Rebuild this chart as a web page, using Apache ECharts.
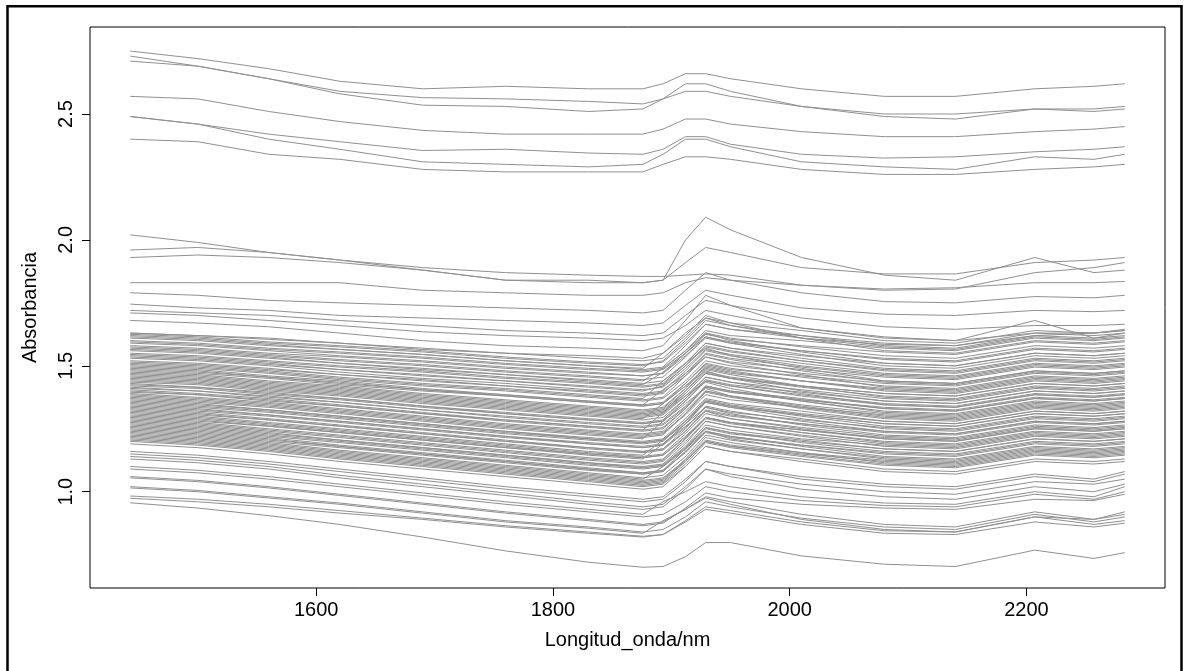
<!DOCTYPE html>
<html>
<head>
<meta charset="utf-8">
<script src="https://cdn.jsdelivr.net/npm/echarts@6/dist/echarts.min.js"></script>
<style>
html, body { margin: 0; padding: 0; background: #fff; }
#chart { width: 1188px; height: 671px; }
</style>
</head>
<body>
<div id="chart"></div>
<script>
// wavelengths (nm) shared by every spectrum
var wavelengths = [1443, 1500, 1560, 1620, 1690, 1760, 1830, 1876, 1893, 1912, 1929, 1950, 2010, 2080, 2140, 2207, 2257, 2283];

var xTicks = [1600, 1800, 2000, 2200];
var yTicks = [1.0, 1.5, 2.0, 2.5];

// the separate group at the top
var topSpectra = [
  [2.75, 2.72, 2.68, 2.63, 2.60, 2.61, 2.60, 2.60, 2.62, 2.66, 2.66, 2.64, 2.60, 2.57, 2.57, 2.60, 2.61, 2.62],
  [2.73, 2.69, 2.64, 2.59, 2.565, 2.56, 2.55, 2.54, 2.56, 2.62, 2.62, 2.59, 2.53, 2.50, 2.50, 2.52, 2.52, 2.53],
  [2.71, 2.69, 2.64, 2.58, 2.535, 2.53, 2.51, 2.52, 2.56, 2.59, 2.59, 2.57, 2.53, 2.49, 2.48, 2.52, 2.51, 2.52],
  [2.57, 2.56, 2.51, 2.47, 2.435, 2.42, 2.42, 2.42, 2.44, 2.48, 2.48, 2.46, 2.43, 2.41, 2.41, 2.43, 2.44, 2.45],
  [2.49, 2.46, 2.42, 2.39, 2.355, 2.36, 2.345, 2.34, 2.36, 2.41, 2.41, 2.38, 2.34, 2.325, 2.33, 2.35, 2.36, 2.37],
  [2.49, 2.46, 2.40, 2.36, 2.31, 2.30, 2.29, 2.30, 2.34, 2.40, 2.40, 2.37, 2.31, 2.29, 2.28, 2.33, 2.32, 2.34],
  [2.40, 2.39, 2.34, 2.32, 2.28, 2.27, 2.27, 2.27, 2.30, 2.33, 2.33, 2.32, 2.28, 2.26, 2.26, 2.28, 2.29, 2.30]
];

// lines between 1.6 and 2.1
var upperSpectra = [
  [2.02, 1.99, 1.95, 1.92, 1.89, 1.87, 1.86, 1.855, 1.855, 1.86, 1.865, 1.86, 1.82, 1.80, 1.805, 1.87, 1.89, 1.91],
  [1.96, 1.97, 1.95, 1.92, 1.88, 1.84, 1.84, 1.83, 1.84, 1.91, 1.97, 1.95, 1.89, 1.865, 1.865, 1.91, 1.92, 1.93],
  [1.93, 1.94, 1.93, 1.91, 1.88, 1.84, 1.83, 1.83, 1.84, 2.00, 2.09, 2.04, 1.93, 1.86, 1.84, 1.93, 1.87, 1.88],
  [1.83, 1.83, 1.83, 1.83, 1.80, 1.79, 1.78, 1.78, 1.79, 1.83, 1.85, 1.84, 1.82, 1.805, 1.81, 1.83, 1.83, 1.835],
  [1.79, 1.78, 1.76, 1.75, 1.74, 1.73, 1.72, 1.71, 1.72, 1.80, 1.87, 1.84, 1.79, 1.755, 1.75, 1.775, 1.77, 1.78],
  [1.745, 1.73, 1.72, 1.70, 1.69, 1.68, 1.67, 1.66, 1.67, 1.74, 1.80, 1.78, 1.73, 1.705, 1.70, 1.72, 1.715, 1.72],
  [1.72, 1.71, 1.70, 1.68, 1.66, 1.64, 1.63, 1.62, 1.63, 1.70, 1.76, 1.74, 1.69, 1.655, 1.645, 1.66, 1.66, 1.665],
  [1.71, 1.70, 1.68, 1.66, 1.635, 1.62, 1.61, 1.60, 1.61, 1.66, 1.72, 1.70, 1.65, 1.615, 1.60, 1.63, 1.63, 1.64],
  [1.68, 1.67, 1.655, 1.63, 1.60, 1.58, 1.57, 1.56, 1.58, 1.68, 1.78, 1.74, 1.65, 1.61, 1.60, 1.68, 1.61, 1.63],
  [1.63, 1.62, 1.61, 1.59, 1.565, 1.55, 1.54, 1.53, 1.55, 1.62, 1.70, 1.67, 1.61, 1.585, 1.58, 1.62, 1.63, 1.645]
];

// the dense band
var denseSpectra = [
  [1.63, 1.62, 1.605, 1.59, 1.57, 1.55, 1.53, 1.52, 1.53, 1.61, 1.69, 1.67, 1.64, 1.60, 1.59, 1.64, 1.63, 1.64],
  [1.62, 1.61, 1.59, 1.575, 1.555, 1.53, 1.51, 1.50, 1.52, 1.60, 1.68, 1.66, 1.62, 1.58, 1.57, 1.62, 1.61, 1.62],
  [1.61, 1.60, 1.58, 1.565, 1.545, 1.52, 1.50, 1.49, 1.55, 1.63, 1.69, 1.66, 1.61, 1.56, 1.55, 1.60, 1.59, 1.60],
  [1.60, 1.59, 1.57, 1.555, 1.535, 1.51, 1.49, 1.48, 1.49, 1.56, 1.64, 1.62, 1.60, 1.57, 1.56, 1.61, 1.60, 1.61],
  [1.59, 1.58, 1.56, 1.54, 1.52, 1.495, 1.475, 1.46, 1.47, 1.55, 1.63, 1.61, 1.575, 1.54, 1.53, 1.58, 1.57, 1.58],
  [1.58, 1.57, 1.55, 1.535, 1.515, 1.49, 1.47, 1.46, 1.47, 1.54, 1.61, 1.59, 1.56, 1.53, 1.52, 1.57, 1.56, 1.57],
  [1.57, 1.56, 1.54, 1.52, 1.50, 1.475, 1.455, 1.44, 1.49, 1.56, 1.63, 1.60, 1.555, 1.51, 1.50, 1.55, 1.54, 1.55],
  [1.56, 1.55, 1.53, 1.51, 1.49, 1.465, 1.445, 1.43, 1.44, 1.51, 1.59, 1.57, 1.54, 1.51, 1.50, 1.55, 1.54, 1.55],
  [1.55, 1.54, 1.52, 1.50, 1.48, 1.455, 1.435, 1.42, 1.43, 1.51, 1.59, 1.57, 1.53, 1.49, 1.48, 1.53, 1.52, 1.53],
  [1.54, 1.53, 1.51, 1.485, 1.46, 1.44, 1.415, 1.40, 1.42, 1.50, 1.58, 1.56, 1.52, 1.48, 1.47, 1.52, 1.51, 1.52],
  [1.535, 1.525, 1.505, 1.485, 1.465, 1.44, 1.42, 1.405, 1.415, 1.49, 1.565, 1.545, 1.51, 1.47, 1.46, 1.51, 1.50, 1.51],
  [1.52, 1.51, 1.49, 1.465, 1.44, 1.42, 1.395, 1.38, 1.39, 1.47, 1.55, 1.53, 1.495, 1.46, 1.45, 1.50, 1.49, 1.50],
  [1.51, 1.50, 1.48, 1.455, 1.43, 1.41, 1.385, 1.37, 1.44, 1.51, 1.57, 1.54, 1.49, 1.44, 1.43, 1.48, 1.47, 1.48],
  [1.50, 1.49, 1.47, 1.445, 1.42, 1.40, 1.375, 1.36, 1.37, 1.44, 1.52, 1.50, 1.47, 1.44, 1.43, 1.48, 1.47, 1.48],
  [1.49, 1.48, 1.455, 1.435, 1.405, 1.38, 1.355, 1.34, 1.35, 1.43, 1.51, 1.49, 1.455, 1.42, 1.41, 1.46, 1.45, 1.46],
  [1.48, 1.47, 1.45, 1.425, 1.40, 1.38, 1.355, 1.34, 1.35, 1.42, 1.49, 1.47, 1.44, 1.41, 1.40, 1.45, 1.44, 1.45],
  [1.47, 1.46, 1.435, 1.415, 1.385, 1.36, 1.335, 1.32, 1.33, 1.41, 1.50, 1.48, 1.44, 1.40, 1.39, 1.44, 1.43, 1.44],
  [1.465, 1.455, 1.43, 1.41, 1.38, 1.355, 1.33, 1.315, 1.325, 1.40, 1.475, 1.455, 1.42, 1.39, 1.38, 1.43, 1.42, 1.43],
  [1.45, 1.44, 1.415, 1.395, 1.365, 1.34, 1.315, 1.30, 1.31, 1.39, 1.47, 1.45, 1.415, 1.38, 1.37, 1.42, 1.41, 1.42],
  [1.44, 1.43, 1.405, 1.385, 1.355, 1.33, 1.305, 1.29, 1.35, 1.42, 1.48, 1.45, 1.40, 1.36, 1.35, 1.40, 1.39, 1.40],
  [1.435, 1.425, 1.40, 1.38, 1.35, 1.325, 1.30, 1.285, 1.295, 1.37, 1.445, 1.425, 1.395, 1.36, 1.35, 1.40, 1.39, 1.40],
  [1.42, 1.41, 1.385, 1.365, 1.335, 1.31, 1.285, 1.27, 1.28, 1.36, 1.44, 1.42, 1.385, 1.35, 1.34, 1.39, 1.38, 1.39],
  [1.41, 1.40, 1.375, 1.355, 1.325, 1.30, 1.275, 1.26, 1.27, 1.34, 1.42, 1.40, 1.37, 1.33, 1.32, 1.37, 1.36, 1.37],
  [1.40, 1.385, 1.365, 1.34, 1.31, 1.28, 1.255, 1.24, 1.25, 1.33, 1.42, 1.40, 1.36, 1.32, 1.31, 1.36, 1.35, 1.36],
  [1.395, 1.385, 1.36, 1.34, 1.31, 1.285, 1.26, 1.245, 1.255, 1.33, 1.415, 1.395, 1.365, 1.33, 1.32, 1.37, 1.36, 1.37],
  [1.38, 1.365, 1.345, 1.32, 1.29, 1.26, 1.235, 1.22, 1.23, 1.31, 1.40, 1.38, 1.34, 1.30, 1.29, 1.34, 1.33, 1.34],
  [1.37, 1.355, 1.335, 1.31, 1.28, 1.25, 1.225, 1.21, 1.28, 1.35, 1.41, 1.38, 1.33, 1.29, 1.28, 1.33, 1.32, 1.33],
  [1.36, 1.345, 1.325, 1.30, 1.27, 1.24, 1.215, 1.20, 1.21, 1.29, 1.37, 1.35, 1.32, 1.28, 1.27, 1.32, 1.31, 1.32],
  [1.355, 1.34, 1.32, 1.295, 1.265, 1.235, 1.21, 1.195, 1.205, 1.28, 1.355, 1.335, 1.305, 1.27, 1.26, 1.31, 1.30, 1.31],
  [1.34, 1.325, 1.305, 1.28, 1.25, 1.22, 1.195, 1.18, 1.19, 1.27, 1.36, 1.34, 1.30, 1.26, 1.25, 1.30, 1.29, 1.30],
  [1.33, 1.315, 1.29, 1.265, 1.235, 1.205, 1.175, 1.16, 1.17, 1.25, 1.34, 1.32, 1.28, 1.24, 1.23, 1.28, 1.27, 1.28],
  [1.32, 1.305, 1.285, 1.26, 1.23, 1.20, 1.175, 1.16, 1.17, 1.24, 1.32, 1.30, 1.27, 1.24, 1.23, 1.28, 1.27, 1.28],
  [1.31, 1.295, 1.27, 1.245, 1.215, 1.185, 1.155, 1.14, 1.15, 1.23, 1.31, 1.29, 1.255, 1.22, 1.21, 1.26, 1.25, 1.26],
  [1.30, 1.285, 1.26, 1.235, 1.205, 1.175, 1.145, 1.13, 1.19, 1.26, 1.32, 1.29, 1.25, 1.21, 1.20, 1.25, 1.24, 1.25],
  [1.295, 1.28, 1.26, 1.235, 1.205, 1.175, 1.15, 1.135, 1.145, 1.22, 1.295, 1.275, 1.245, 1.21, 1.20, 1.25, 1.24, 1.25],
  [1.28, 1.265, 1.24, 1.215, 1.185, 1.155, 1.125, 1.11, 1.12, 1.20, 1.28, 1.26, 1.225, 1.19, 1.18, 1.23, 1.22, 1.23],
  [1.27, 1.255, 1.23, 1.205, 1.175, 1.145, 1.115, 1.10, 1.11, 1.19, 1.28, 1.26, 1.22, 1.18, 1.17, 1.22, 1.21, 1.22],
  [1.26, 1.245, 1.22, 1.195, 1.165, 1.135, 1.105, 1.09, 1.10, 1.17, 1.25, 1.23, 1.20, 1.17, 1.16, 1.21, 1.20, 1.21],
  [1.25, 1.235, 1.21, 1.18, 1.15, 1.12, 1.09, 1.07, 1.08, 1.16, 1.24, 1.22, 1.185, 1.15, 1.14, 1.19, 1.18, 1.19],
  [1.24, 1.225, 1.20, 1.175, 1.145, 1.115, 1.085, 1.07, 1.08, 1.16, 1.24, 1.22, 1.18, 1.14, 1.13, 1.18, 1.17, 1.18],
  [1.23, 1.215, 1.19, 1.16, 1.13, 1.10, 1.07, 1.05, 1.10, 1.17, 1.24, 1.21, 1.17, 1.13, 1.12, 1.17, 1.16, 1.17],
  [1.22, 1.205, 1.18, 1.15, 1.12, 1.09, 1.06, 1.04, 1.05, 1.12, 1.20, 1.18, 1.15, 1.12, 1.11, 1.16, 1.15, 1.16],
  [1.21, 1.195, 1.17, 1.14, 1.11, 1.08, 1.05, 1.03, 1.04, 1.12, 1.20, 1.18, 1.145, 1.11, 1.10, 1.15, 1.14, 1.15],
  [1.20, 1.185, 1.16, 1.13, 1.10, 1.07, 1.04, 1.02, 1.03, 1.10, 1.18, 1.16, 1.13, 1.09, 1.08, 1.13, 1.12, 1.13],
  [1.19, 1.175, 1.15, 1.12, 1.09, 1.06, 1.03, 1.01, 1.02, 1.10, 1.18, 1.16, 1.12, 1.08, 1.07, 1.12, 1.11, 1.12]
];

// more spectra filling the dense band
var denseSpectraB = [
  [1.625, 1.615, 1.595, 1.58, 1.56, 1.535, 1.515, 1.505, 1.515, 1.59, 1.665, 1.645, 1.62, 1.59, 1.58, 1.63, 1.62, 1.63],
  [1.615, 1.605, 1.585, 1.565, 1.545, 1.52, 1.50, 1.485, 1.495, 1.58, 1.665, 1.645, 1.61, 1.575, 1.565, 1.615, 1.605, 1.615],
  [1.595, 1.585, 1.565, 1.55, 1.53, 1.505, 1.485, 1.475, 1.485, 1.55, 1.625, 1.605, 1.58, 1.555, 1.545, 1.595, 1.585, 1.595],
  [1.575, 1.565, 1.545, 1.525, 1.505, 1.48, 1.46, 1.445, 1.455, 1.535, 1.615, 1.595, 1.56, 1.525, 1.515, 1.565, 1.555, 1.565],
  [1.565, 1.555, 1.535, 1.51, 1.485, 1.465, 1.44, 1.425, 1.475, 1.55, 1.615, 1.59, 1.545, 1.50, 1.49, 1.54, 1.53, 1.54],
  [1.545, 1.535, 1.515, 1.495, 1.475, 1.45, 1.43, 1.415, 1.425, 1.50, 1.575, 1.555, 1.52, 1.485, 1.475, 1.525, 1.515, 1.525],
  [1.53, 1.52, 1.50, 1.475, 1.45, 1.43, 1.405, 1.39, 1.40, 1.48, 1.56, 1.54, 1.50, 1.465, 1.455, 1.505, 1.495, 1.505],
  [1.515, 1.505, 1.485, 1.465, 1.445, 1.42, 1.40, 1.385, 1.395, 1.46, 1.535, 1.515, 1.485, 1.455, 1.445, 1.495, 1.485, 1.495],
  [1.505, 1.495, 1.475, 1.45, 1.425, 1.405, 1.38, 1.365, 1.375, 1.46, 1.545, 1.525, 1.48, 1.435, 1.425, 1.475, 1.465, 1.475],
  [1.495, 1.485, 1.46, 1.44, 1.41, 1.385, 1.36, 1.345, 1.355, 1.43, 1.505, 1.485, 1.46, 1.43, 1.42, 1.47, 1.46, 1.47],
  [1.485, 1.475, 1.455, 1.43, 1.405, 1.385, 1.36, 1.345, 1.405, 1.47, 1.535, 1.51, 1.465, 1.415, 1.405, 1.455, 1.445, 1.455],
  [1.475, 1.465, 1.44, 1.42, 1.39, 1.365, 1.34, 1.325, 1.335, 1.41, 1.495, 1.475, 1.44, 1.405, 1.395, 1.445, 1.435, 1.445],
  [1.46, 1.45, 1.425, 1.405, 1.375, 1.35, 1.325, 1.31, 1.32, 1.39, 1.47, 1.45, 1.42, 1.39, 1.38, 1.43, 1.42, 1.43],
  [1.455, 1.445, 1.42, 1.40, 1.37, 1.345, 1.32, 1.305, 1.315, 1.40, 1.485, 1.465, 1.42, 1.375, 1.365, 1.415, 1.405, 1.415],
  [1.445, 1.435, 1.41, 1.39, 1.36, 1.335, 1.31, 1.295, 1.305, 1.38, 1.455, 1.435, 1.405, 1.37, 1.36, 1.41, 1.40, 1.41],
  [1.43, 1.415, 1.395, 1.37, 1.34, 1.31, 1.285, 1.27, 1.28, 1.36, 1.44, 1.42, 1.38, 1.345, 1.335, 1.385, 1.375, 1.385],
  [1.425, 1.415, 1.39, 1.37, 1.34, 1.315, 1.29, 1.275, 1.285, 1.37, 1.455, 1.435, 1.39, 1.345, 1.335, 1.385, 1.375, 1.385],
  [1.415, 1.40, 1.38, 1.355, 1.325, 1.295, 1.27, 1.255, 1.265, 1.335, 1.415, 1.395, 1.365, 1.335, 1.325, 1.375, 1.365, 1.375],
  [1.405, 1.39, 1.37, 1.345, 1.315, 1.285, 1.26, 1.245, 1.315, 1.38, 1.435, 1.41, 1.36, 1.315, 1.305, 1.355, 1.345, 1.355],
  [1.39, 1.375, 1.355, 1.33, 1.30, 1.27, 1.245, 1.23, 1.24, 1.32, 1.40, 1.38, 1.345, 1.31, 1.30, 1.35, 1.34, 1.35],
  [1.385, 1.37, 1.35, 1.325, 1.295, 1.265, 1.24, 1.225, 1.235, 1.305, 1.385, 1.365, 1.335, 1.305, 1.295, 1.345, 1.335, 1.345],
  [1.375, 1.36, 1.34, 1.315, 1.285, 1.255, 1.23, 1.215, 1.225, 1.31, 1.395, 1.375, 1.335, 1.295, 1.285, 1.335, 1.325, 1.335],
  [1.365, 1.35, 1.325, 1.30, 1.27, 1.24, 1.21, 1.195, 1.205, 1.28, 1.365, 1.345, 1.31, 1.28, 1.27, 1.32, 1.31, 1.32],
  [1.35, 1.335, 1.315, 1.29, 1.26, 1.23, 1.205, 1.19, 1.20, 1.28, 1.36, 1.34, 1.305, 1.27, 1.26, 1.31, 1.30, 1.31],
  [1.345, 1.33, 1.305, 1.28, 1.25, 1.22, 1.19, 1.175, 1.185, 1.255, 1.335, 1.315, 1.285, 1.255, 1.245, 1.295, 1.285, 1.295],
  [1.335, 1.32, 1.30, 1.275, 1.245, 1.215, 1.19, 1.175, 1.185, 1.27, 1.355, 1.335, 1.29, 1.25, 1.24, 1.29, 1.28, 1.29],
  [1.325, 1.31, 1.285, 1.26, 1.23, 1.20, 1.17, 1.155, 1.165, 1.24, 1.325, 1.305, 1.27, 1.235, 1.225, 1.275, 1.265, 1.275],
  [1.315, 1.30, 1.275, 1.25, 1.22, 1.19, 1.16, 1.145, 1.205, 1.27, 1.335, 1.31, 1.265, 1.225, 1.215, 1.265, 1.255, 1.265],
  [1.305, 1.29, 1.265, 1.24, 1.21, 1.18, 1.15, 1.135, 1.145, 1.215, 1.295, 1.275, 1.245, 1.215, 1.205, 1.255, 1.245, 1.255],
  [1.29, 1.275, 1.25, 1.225, 1.195, 1.165, 1.135, 1.12, 1.13, 1.21, 1.29, 1.27, 1.235, 1.20, 1.19, 1.24, 1.23, 1.24],
  [1.285, 1.27, 1.245, 1.22, 1.19, 1.16, 1.13, 1.115, 1.125, 1.21, 1.295, 1.275, 1.235, 1.195, 1.185, 1.235, 1.225, 1.235],
  [1.275, 1.26, 1.235, 1.205, 1.175, 1.145, 1.115, 1.095, 1.105, 1.18, 1.265, 1.245, 1.21, 1.185, 1.175, 1.225, 1.215, 1.225],
  [1.265, 1.25, 1.225, 1.20, 1.17, 1.14, 1.11, 1.095, 1.105, 1.175, 1.255, 1.235, 1.205, 1.17, 1.16, 1.21, 1.20, 1.21],
  [1.255, 1.24, 1.215, 1.185, 1.155, 1.125, 1.095, 1.075, 1.085, 1.17, 1.255, 1.235, 1.195, 1.16, 1.15, 1.20, 1.19, 1.20],
  [1.245, 1.23, 1.205, 1.18, 1.15, 1.12, 1.09, 1.075, 1.085, 1.155, 1.235, 1.215, 1.185, 1.155, 1.145, 1.195, 1.185, 1.195],
  [1.235, 1.22, 1.195, 1.165, 1.135, 1.105, 1.075, 1.055, 1.065, 1.14, 1.225, 1.205, 1.17, 1.135, 1.125, 1.175, 1.165, 1.175],
  [1.225, 1.21, 1.185, 1.155, 1.125, 1.095, 1.065, 1.045, 1.055, 1.125, 1.205, 1.185, 1.155, 1.125, 1.115, 1.165, 1.155, 1.165],
  [1.215, 1.20, 1.175, 1.145, 1.115, 1.085, 1.055, 1.035, 1.045, 1.13, 1.215, 1.195, 1.155, 1.115, 1.105, 1.155, 1.145, 1.155],
  [1.205, 1.19, 1.165, 1.135, 1.105, 1.075, 1.045, 1.025, 1.035, 1.11, 1.195, 1.175, 1.14, 1.105, 1.095, 1.145, 1.135, 1.145]
];

// sparser lines under the band
var lowSpectra = [
  [1.16, 1.145, 1.12, 1.09, 1.055, 1.02, 0.99, 0.97, 0.98, 1.05, 1.12, 1.10, 1.06, 1.03, 1.02, 1.07, 1.05, 1.08],
  [1.15, 1.135, 1.11, 1.08, 1.045, 1.01, 0.98, 0.96, 0.97, 1.04, 1.12, 1.10, 1.05, 1.02, 1.01, 1.06, 1.04, 1.07],
  [1.14, 1.125, 1.10, 1.065, 1.03, 0.995, 0.96, 0.94, 0.95, 1.02, 1.09, 1.07, 1.03, 1.00, 0.99, 1.04, 1.03, 1.05],
  [1.13, 1.115, 1.09, 1.055, 1.02, 0.985, 0.95, 0.93, 0.94, 1.01, 1.09, 1.06, 1.01, 0.98, 0.97, 1.02, 1.00, 1.03],
  [1.10, 1.085, 1.06, 1.03, 0.995, 0.96, 0.93, 0.91, 0.96, 1.00, 1.04, 1.02, 0.98, 0.955, 0.95, 1.00, 0.98, 1.02],
  [1.09, 1.075, 1.05, 1.02, 0.985, 0.95, 0.92, 0.90, 0.91, 0.96, 1.02, 1.00, 0.965, 0.945, 0.94, 0.99, 0.97, 1.00],
  [1.06, 1.045, 1.02, 0.99, 0.955, 0.92, 0.89, 0.87, 0.88, 0.93, 0.98, 0.96, 0.91, 0.87, 0.86, 0.92, 0.89, 0.92],
  [1.055, 1.04, 1.015, 0.985, 0.95, 0.915, 0.885, 0.865, 0.875, 0.935, 0.995, 0.975, 0.95, 0.935, 0.93, 0.97, 0.965, 0.99],
  [1.02, 1.005, 0.98, 0.955, 0.92, 0.885, 0.86, 0.84, 0.85, 0.90, 0.96, 0.94, 0.895, 0.86, 0.85, 0.91, 0.88, 0.90],
  [1.015, 1.00, 0.975, 0.95, 0.915, 0.88, 0.855, 0.835, 0.885, 0.93, 0.975, 0.95, 0.89, 0.85, 0.84, 0.90, 0.87, 0.885],
  [0.983, 0.97, 0.95, 0.925, 0.895, 0.865, 0.84, 0.823, 0.83, 0.88, 0.93, 0.915, 0.87, 0.835, 0.83, 0.88, 0.86, 0.875],
  [0.974, 0.96, 0.94, 0.915, 0.89, 0.86, 0.835, 0.82, 0.83, 0.885, 0.94, 0.925, 0.88, 0.845, 0.84, 0.90, 0.89, 0.91],
  [0.956, 0.935, 0.905, 0.87, 0.82, 0.765, 0.72, 0.70, 0.703, 0.742, 0.798, 0.798, 0.745, 0.712, 0.703, 0.768, 0.735, 0.758]
];

var chartDom = document.getElementById('chart');
var myChart = echarts.init(chartDom);

var allSpectra = topSpectra.concat(upperSpectra, denseSpectra, denseSpectraB, lowSpectra);
var series = allSpectra.map(function (spec) {
  return {
    type: 'line',
    data: spec.map(function (v, i) { return [wavelengths[i], v]; }),
    showSymbol: false,
    silent: true,
    lineStyle: { color: '#909090', width: 1 }
  };
});

var labelFont = { fontFamily: 'Liberation Sans', fontSize: 20, color: '#000' };

var option = {
  animation: false,
  backgroundColor: '#fff',
  grid: {
    left: 90, top: 27, right: 23, bottom: 83,
    show: true, borderColor: '#000', borderWidth: 1
  },
  xAxis: {
    type: 'value',
    min: 1409, max: 2317,
    axisLine: { show: false },
    splitLine: { show: false },
    axisTick: { show: true, length: 8, lineStyle: { color: '#000' }, customValues: xTicks },
    axisLabel: Object.assign({
      margin: 12, customValues: xTicks,
      formatter: function (v) { return String(v); }
    }, labelFont),
    name: 'Longitud_onda/nm',
    nameLocation: 'middle',
    nameGap: 42,
    nameTextStyle: labelFont
  },
  yAxis: {
    type: 'value',
    min: 0.6176, max: 2.8455,
    axisLine: { show: false },
    splitLine: { show: false },
    axisTick: { show: true, length: 8, lineStyle: { color: '#000' }, customValues: yTicks },
    axisLabel: Object.assign({
      margin: 14, rotate: 90, customValues: yTicks,
      formatter: function (v) { return v.toFixed(1); }
    }, labelFont),
    name: 'Absorbancia',
    nameLocation: 'middle',
    nameGap: 50,
    nameTextStyle: labelFont
  },
  graphic: [{
    type: 'rect',
    silent: true,
    shape: { x: 7.5, y: 6.2, width: 1174, height: 670 },
    style: { fill: 'none', stroke: '#000', lineWidth: 2.5 }
  }],
  series: series
};

option && myChart.setOption(option);
</script>
</body>
</html>
